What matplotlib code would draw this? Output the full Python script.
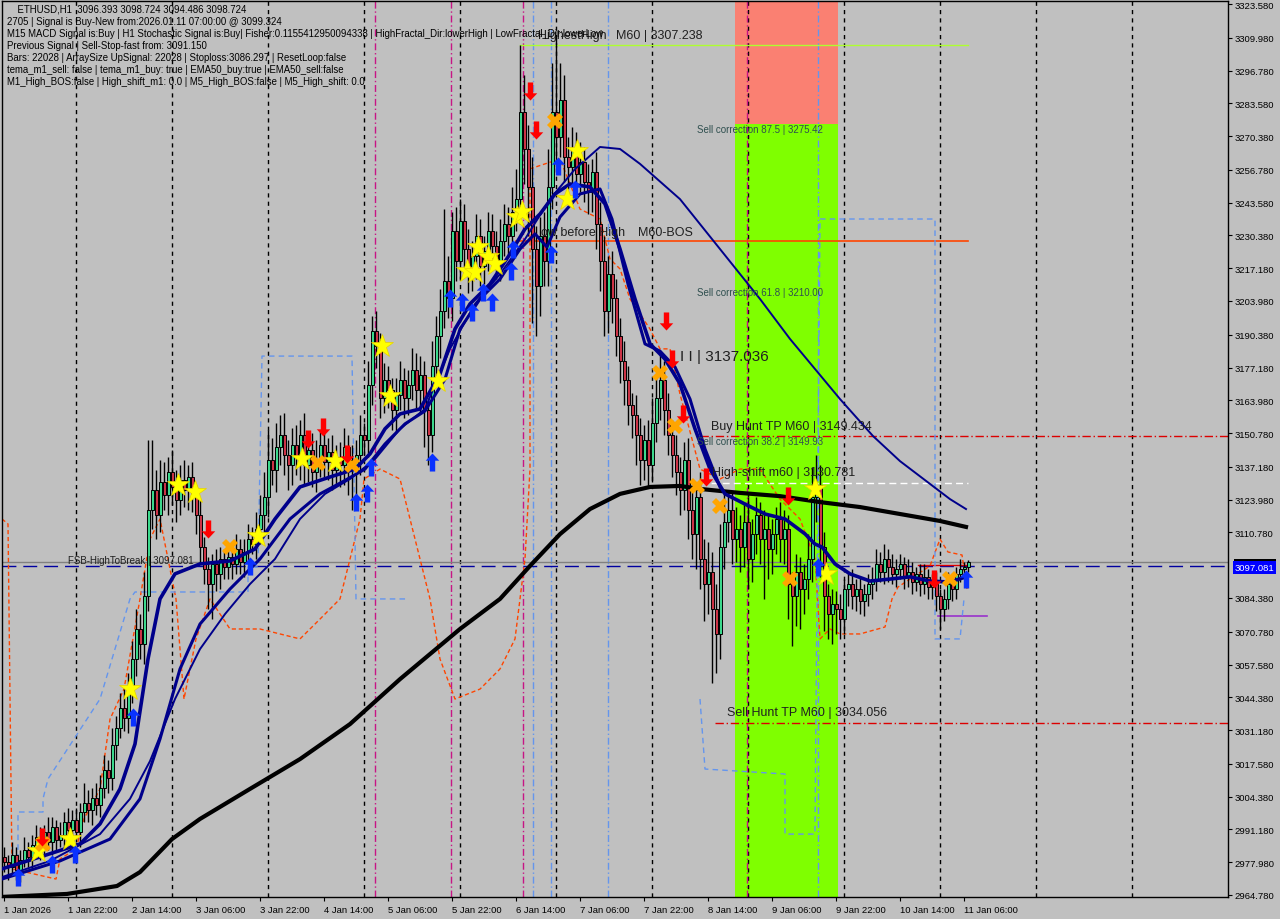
import numpy as np
import matplotlib
matplotlib.use('Agg')
import matplotlib.pyplot as plt
from matplotlib.path import Path
from matplotlib.patches import Rectangle
from matplotlib.transforms import blended_transform_factory

plt.rcParams['font.family'] = ['Liberation Sans', 'DejaVu Sans']

# ---- candles (H1, 1 Jan 06:00 .. 11 Jan 07:00) ----
closes = [
    2978, 2976, 2981, 2975, 2979, 2983, 2980, 2985,
    2988, 2984, 2990, 2986, 2992, 2987, 2989, 2994,
    2991, 2995, 2990, 2998, 3002, 2999, 3004, 3001,
    3008, 3015, 3012, 3025, 3032, 3040, 3036, 3048,
    3060, 3072, 3066, 3085, 3120, 3128, 3118, 3131,
    3126, 3135, 3129, 3124, 3132, 3128, 3133, 3125,
    3118, 3105, 3096, 3090, 3098, 3094, 3100, 3097,
    3101, 3098, 3104, 3099, 3103, 3108, 3106, 3112,
    3118, 3125, 3140, 3136, 3145, 3150, 3142, 3138,
    3146, 3141, 3150, 3138, 3144, 3135, 3140, 3146,
    3139, 3143, 3136, 3141, 3138, 3145, 3140, 3136,
    3142, 3150, 3148, 3170, 3192, 3186, 3165, 3172,
    3168, 3160, 3166, 3172, 3165, 3170, 3176, 3168,
    3174, 3160, 3150, 3178, 3190, 3200, 3212, 3205,
    3232, 3220, 3236, 3225, 3215, 3222, 3230, 3218,
    3224, 3232, 3226, 3220, 3228, 3235, 3230, 3240,
    3245, 3280, 3265, 3250, 3225, 3210, 3230, 3220,
    3250, 3280, 3270, 3285, 3262, 3258, 3265, 3255,
    3260, 3252, 3248, 3256, 3235, 3220, 3200, 3215,
    3205, 3190, 3180, 3172, 3162, 3158, 3150, 3140,
    3148, 3138, 3155, 3165, 3172, 3160, 3150, 3142,
    3135, 3128, 3140, 3120, 3110, 3125, 3100, 3090,
    3095, 3080, 3070, 3105, 3115, 3120, 3108, 3112,
    3105, 3115, 3100, 3110, 3118, 3108, 3112, 3104,
    3110, 3116, 3108, 3112, 3090, 3085, 3095, 3088,
    3092, 3100, 3125, 3130, 3105, 3085, 3078, 3082,
    3080, 3076, 3088, 3090, 3085, 3088, 3083, 3086,
    3090, 3092, 3098, 3095, 3100, 3097, 3094, 3096,
    3098, 3093, 3095, 3091, 3094, 3090, 3093, 3089,
    3090, 3085, 3080, 3084, 3090, 3088, 3094, 3096,
    3097, 3098.724]
opens = [2980] + closes[:-1]
hi_wick = [
    4, 3, 5, 3, 4, 5, 3, 4,  5, 4, 3, 6, 4, 3, 5, 4,
    6, 4, 5, 4, 8, 5, 4, 6,  5, 6, 4, 7, 5, 6, 8, 6,
    7, 8, 6, 10, 28, 20, 8, 9,  8, 6, 9, 7, 6, 8, 5, 6,
    5, 6, 4, 5, 4, 6, 5, 4,  4, 5, 6, 4, 5, 6, 5, 7,
    8, 10, 12, 9, 10, 8, 9, 6,  7, 8, 6, 9, 5, 7, 8, 6,
    5, 6, 7, 5, 6, 8, 5, 6,  6, 8, 5, 10, 6, 8, 5, 7,
    6, 5, 7, 8, 5, 6, 9, 7,  8, 6, 5, 10, 8, 9, 29, 10,
    8, 10, 9, 7, 8, 6, 9, 7,  6, 8, 7, 6, 9, 8, 7, 10,
    12, 27, 15, 10, 12, 9, 8, 10,  15, 20, 30, 15, 10, 8, 9, 7,
    8, 6, 7, 5, 8, 9, 10, 7,  9, 8, 7, 8, 6, 5, 8, 7,
    6, 8, 10, 9, 12, 8, 7, 6,  8, 6, 7, 9, 8, 6, 10, 8,
    12, 8, 10, 9, 12, 8, 7, 9,  6, 8, 10, 6, 7, 5, 8, 6,
    6, 5, 7, 8, 6, 5, 7, 6,  6, 10, 12, 12, 8, 6, 5, 6,
    5, 6, 4, 5, 6, 4, 5, 4,  4, 5, 6, 5, 6, 4, 5, 4,
    4, 3, 5, 4, 3, 4, 5, 3,  4, 5, 3, 4, 5, 4, 3, 4,
    2, 1]
lo_wick = [
    4, 5, 3, 4, 5, 3, 4, 5,  3, 5, 4, 3, 5, 4, 3, 5,
    4, 5, 4, 6, 4, 5, 6, 4,  5, 4, 6, 5, 6, 4, 5, 6,
    6, 7, 6, 8, 6, 8, 10, 7,  6, 8, 7, 9, 6, 7, 8, 6,
    8, 7, 6, 10, 14, 7, 6, 5,  5, 6, 4, 5, 6, 5, 4, 6,
    6, 7, 8, 6, 9, 7, 8, 10,  8, 7, 9, 8, 7, 6, 8, 7,
    6, 7, 8, 6, 9, 8, 14, 16,  12, 8, 6, 7, 8, 9, 8, 6,
    7, 8, 9, 6, 8, 7, 6, 8,  9, 15, 12, 7, 8, 9, 7, 8,
    9, 8, 7, 10, 8, 7, 9, 8,  7, 8, 9, 7, 8, 6, 8, 7,
    8, 10, 14, 20, 30, 20, 12, 10,  10, 9, 12, 8, 10, 9, 8, 7,
    7, 8, 9, 8, 10, 12, 10, 9,  10, 8, 9, 10, 8, 9, 12, 10,
    8, 9, 7, 8, 9, 10, 8, 9,  9, 10, 8, 12, 10, 14, 12, 15,
    12, 30, 16, 10, 9, 8, 10, 9,  10, 8, 12, 9, 8, 10, 24, 12,
    10, 8, 9, 10, 14, 20, 12, 16,  10, 8, 9, 10, 12, 14, 10, 12,
    10, 8, 6, 7, 5, 6, 5, 6,  5, 6, 5, 4, 5, 6, 4, 5,
    4, 5, 4, 5, 4, 5, 4, 5,  5, 6, 8, 5, 4, 5, 4, 3,
    2, 2]

# ---- moving averages (bar index, price) ----
fast_i = [-0.5, 9, 19, 24, 29, 32.75, 36, 39, 42.75, 49, 56.5, 62.75, 67.75, 74, 81.5, 87.75,
          91.5, 95.25, 99, 104, 109, 112.75, 116.5, 121.5, 126.5, 130.25, 134, 137.75, 141.5,
          146.5, 150.25, 154, 157.75, 161.5, 165.25, 169, 172.75, 176.5, 180.25, 185.25, 190.25,
          195.25, 200.25, 202.75, 204.5, 207.75, 211.5, 216.5, 221.5, 226.5, 231.5, 236.5, 240.5]
fast_p = [2975.3, 2980.1, 2985.3, 2993.4, 3007.5, 3025.6, 3059.8, 3084.0, 3094.1, 3098.1, 3099.3,
          3104.1, 3116.2, 3129.1, 3133.1, 3136.3, 3142.4, 3152.5, 3158.5, 3160.5, 3174.6, 3192.7,
          3202.8, 3210.8, 3222.9, 3233.0, 3239.0, 3247.1, 3251.1, 3249.9, 3243.1, 3224.9, 3204.8,
          3186.7, 3180.6, 3170.6, 3152.5, 3136.3, 3126.3, 3122.2, 3118.2, 3116.2, 3110.2, 3106.1,
          3104.9, 3098.1, 3094.1, 3091.2, 3092.0, 3092.9, 3091.2, 3090.8, 3092.9]
mid_i = [-0.5, 14, 26.5, 34, 39, 44, 49, 56.5, 64, 71.5, 79, 85, 90.25, 95.25, 100.25, 105.25,
         110.25, 114, 119, 124, 129, 132.75, 135.75, 139, 144, 149, 152, 156, 160.25, 164,
         167.75, 171.5, 175.25, 179]
mid_p = [2971.2, 2978.5, 2987.3, 3003.5, 3027.6, 3055.8, 3073.9, 3088.0, 3100.1, 3116.2, 3126.3,
         3131.5, 3136.3, 3146.4, 3154.5, 3159.7, 3172.5, 3192.7, 3204.8, 3212.8, 3224.9, 3231.0,
         3225.7, 3237.8, 3247.1, 3249.1, 3237.0, 3210.8, 3186.7, 3183.8, 3177.4, 3164.5, 3144.4,
         3129.1]
slow_i = [-0.5, 11.5, 24, 31.5, 36.5, 42.75, 49, 55.25, 61.5, 67.75, 74, 80.25, 86.5, 92.75, 99,
          105.25, 111.5, 117.75, 124, 130.25, 136.5, 142.75, 149, 154, 159, 169, 179, 189, 196.5,
          209, 217.25, 224, 236.5, 240.5]
slow_p = [2972.0, 2978.5, 2989.3, 3003.5, 3018.7, 3043.7, 3063.8, 3077.9, 3090.0, 3100.1, 3116.2,
          3126.3, 3132.3, 3140.3, 3152.5, 3160.5, 3184.7, 3202.8, 3214.8, 3228.9, 3245.0, 3257.1,
          3266.0, 3265.2, 3259.2, 3245.0, 3224.9, 3204.8, 3188.7, 3164.5, 3149.6, 3139.5, 3124.2,
          3120.2]
ema200_i = [-0.5, 15.75, 28.25, 34, 42, 49, 61.5, 74, 86.5, 99, 106.5, 114, 124, 131.5, 139,
            146.5, 154, 161.5, 169, 174, 184, 194, 204, 214, 224, 234, 240.5]
ema200_p = [2964.0, 2965.2, 2968.4, 2974.0, 2987.3, 2995.4, 3007.5, 3019.5, 3033.6, 3051.7,
            3061.8, 3071.9, 3084.0, 3097.3, 3110.1, 3120.2, 3126.3, 3129.1, 3129.5, 3128.3,
            3126.7, 3125.4, 3123.0, 3121.0, 3118.2, 3115.4, 3113.0]

# ---- channel step lines ----
orange_i = [-0.5, 1, 2, 13, 14, 18, 20, 24, 26.5, 30, 34, 36.5, 39, 43, 45, 48, 51.5, 56.5, 64,
            74, 79, 84, 86.5, 89, 90, 94, 99, 101.5, 104, 106.5, 109, 112.75, 119, 124, 127.75,
            130.25, 131.5, 131.5, 139, 144, 149, 151.5, 154, 156.5, 161.5, 164, 166.5, 169, 174,
            179, 184, 189, 194, 199, 202.75, 204, 206.5, 209, 214, 220.25, 222, 223.5, 231.5,
            234, 236, 239.5, 240.75]
orange_p = [3116.2, 3114.2, 2975.3, 2971.2, 2979.3, 2983.3, 2995.4, 3007.5, 3035.6, 3047.7, 3084.0,
            3108.1, 3116.2, 3084.0, 3043.7, 3067.9, 3084.0, 3071.9, 3071.9, 3067.9, 3075.9, 3084.0,
            3100.1, 3116.2, 3132.3, 3136.3, 3132.3, 3116.2, 3100.1, 3084.0, 3059.8, 3043.7, 3047.7,
            3055.8, 3067.9, 3100.1, 3136.3, 3257.2, 3261.2, 3241.0, 3237.0, 3220.9, 3216.9, 3204.8,
            3192.7, 3184.7, 3184.7, 3166.5, 3136.3, 3132.3, 3136.3, 3136.3, 3124.2, 3116.2, 3100.1,
            3067.9, 3071.9, 3069.9, 3069.9, 3072.7, 3084.0, 3088.8, 3097.3, 3108.1, 3102.9, 3101.7,
            3088.0]
blue_i = [3.5, 3.5, 9.75, 9.75, 11, 24, 31.5, 32.75, 61, 61, 63.5, 64.5, 87, 88, 101,
          np.nan, 174, 175.25, 195.25, 195.25, 202.75, 204, 232.75, 232.75, 239, 240]
blue_p = [2971.2, 2998.2, 2998.2, 3003.5, 3011.5, 3043.7, 3084.0, 3086.8, 3086.8, 3096.9, 3096.9,
          3181.8, 3181.8, 3084.0, 3084.0, np.nan, 3043.7, 3015.5, 3013.5, 2989.3, 2989.3, 3237.0,
          3237.0, 3067.9, 3067.9, 3084.0]

# ---- signal markers (bar index, price) ----
star_i = [8.5, 16.5, 31.5, 43.5, 47.75, 63.5, 74.5, 82.75, 94.5, 96.5, 108.5, 115.75, 117.75,
          118.5, 121, 122.75, 128.25, 129.5, 140.75, 143.25, 202.75, 205.5]
star_p = [2982.5, 2987.3, 3047.7, 3129.9, 3127.1, 3109.3, 3140.3, 3139.5, 3185.9, 3165.7, 3171.8,
          3216.1, 3215.7, 3225.7, 3221.7, 3218.9, 3237.8, 3239.8, 3245.0, 3264.4, 3128.3, 3094.0]
cross_i = [9.75, 56.5, 78.5, 87, 137.75, 164, 167.75, 173.25, 179, 196.5, 236.5]
cross_p = [2985.3, 3104.9, 3138.7, 3137.9, 3276.5, 3175.0, 3153.6, 3129.5, 3121.4, 3092.0, 3092.0]
down_i = [9.5, 51, 76, 79.75, 85.75, 131.5, 133, 165.5, 167, 169.75, 175.5, 196, 232.5]
down_p = [2988.1, 3112.2, 3148.4, 3153.2, 3142.4, 3288.5, 3272.8, 3195.9, 3180.6, 3158.5,
          3133.1, 3125.4, 3092.0]
up_i = [3.5, 12, 17.75, 32.25, 61.5, 88, 90.75, 91.75, 107, 111.5, 114.5, 117, 119.75, 122,
        126.75, 127.25, 136.75, 138.5, 142.75, 203.5, 240.5]
up_p = [2972.0, 2977.3, 2981.3, 3036.5, 3097.3, 3123.0, 3126.7, 3137.1, 3139.1, 3205.2, 3203.6,
        3199.6, 3207.6, 3203.6, 3216.1, 3224.9, 3222.9, 3258.3, 3249.1, 3096.9, 3092.0]

# ---- levels ----
highest_high = 3307.238
bos_level = 3228.1
sell_corr_875 = 3275.42
buy_hunt_tp = 3149.434
high_shift = 3130.781
sell_hunt_tp = 3034.056
fsb_level = 3097.081
bid = 3098.724
zone_start, zone_end = 182.75, 208.5

y_ticks = [3323.580, 3309.980, 3296.780, 3283.580, 3270.380, 3256.780, 3243.580, 3230.380,
           3217.180, 3203.980, 3190.380, 3177.180, 3163.980, 3150.780, 3137.180, 3123.980,
           3110.780, 3084.380, 3070.780, 3057.580, 3044.380, 3031.180, 3017.580, 3004.380,
           2991.180, 2977.980, 2964.780]
x_labels = ['1 Jan 2026', '1 Jan 22:00', '2 Jan 14:00', '3 Jan 06:00', '3 Jan 22:00',
            '4 Jan 14:00', '5 Jan 06:00', '5 Jan 22:00', '6 Jan 14:00', '7 Jan 06:00',
            '7 Jan 22:00', '8 Jan 14:00', '9 Jan 06:00', '9 Jan 22:00', '10 Jan 14:00',
            '11 Jan 06:00']

info_lines = [
    '    ETHUSD,H1  3096.393 3098.724 3094.486 3098.724',
    '2705 | Signal is Buy-New from:2026.01.11 07:00:00 @ 3099.324',
    'M15 MACD Signal is:Buy | H1 Stochastic Signal is:Buy| Fisher:0.1155412950094338 | HighFractal_Dir:lowerHigh | LowFractal_Dir:lowerLow',
    'Previous Signal | Sell-Stop-fast from: 3091.150',
    'Bars: 22028 | ArraySize UpSignal: 22028 | Stoploss:3086.297 | ResetLoop:false',
    'tema_m1_sell: false | tema_m1_buy: true | EMA50_buy:true | EMA50_sell:false',
    'M1_High_BOS:false | High_shift_m1: 0.0 | M5_High_BOS:false | M5_High_shift: 0.0',
]

BG = '#C0C0C0'
fig = plt.figure(figsize=(12.8, 9.2), dpi=100, facecolor=BG)
ax = fig.add_axes([2 / 1280, 22 / 920, 1226 / 1280, 896 / 920])
ax.set_facecolor(BG)
ax.set_xlim(-0.5, 306)
ax.set_ylim(2963.97, 3324.79)

# zones
ax.axvspan(zone_start, zone_end, ymin=0, ymax=1, color='#7FFF00', lw=0, zorder=1)
ax.fill_between([zone_start, zone_end], sell_corr_875, 3330, color='#FA8072', lw=0, zorder=1)

# day separators + other verticals
for d in np.arange(18, 306, 24):
    ax.axvline(d, color='black', lw=1, ls=(0, (3, 3)), zorder=2)
for v in [92.75, 111.75, 129.75, 185.75]:
    ax.axvline(v, color='#C71585', lw=1, ls=(0, (5, 2, 1, 2)), zorder=2)
for v in [132.25, 136.75, 151, 203.5]:
    ax.axvline(v, color='#6495ED', lw=1, ls=(0, (5, 2, 1, 2)), zorder=2)

# step lines
ax.plot(orange_i, orange_p, color='#FF4500', lw=1, ls=(0, (3, 2)), zorder=2.5)
ax.plot(blue_i, blue_p, color='#6495ED', lw=1, ls=(0, (4, 3)), zorder=2.5)

# levels
ax.plot([129, 241], [highest_high] * 2, color='#ADFF2F', lw=1, zorder=2)
ax.plot([128, 241], [bos_level] * 2, color='#FF4500', lw=1.2, zorder=2)
ax.plot([174, 306], [buy_hunt_tp] * 2, color='#DC0000', lw=1, ls=(0, (6, 2, 1, 2)), zorder=2)
ax.plot([174, 241], [high_shift] * 2, color='white', lw=1, ls=(0, (5, 3)), zorder=2)
ax.plot([177.75, 306], [sell_hunt_tp] * 2, color='#DC0000', lw=1, ls=(0, (6, 2, 1, 2)), zorder=2)
ax.axhline(bid, color='#808080', lw=1, zorder=2)
ax.axhline(fsb_level, color='#0000A0', lw=1, ls=(0, (10, 5)), zorder=2)
ax.plot([233.5, 245.75], [3077.1] * 2, color='#9932CC', lw=1.2, zorder=2)
ax.plot([228.5, 241], [3097.5] * 2, color='#DC0000', lw=1, zorder=2)

# candles
x = np.arange(len(closes))
o = np.array(opens, float)
c = np.array(closes, float)
hi = np.maximum(o, c) + np.array(hi_wick)
lo = np.minimum(o, c) - np.array(lo_wick)
ax.vlines(x, lo, hi, color='black', lw=1, zorder=3)
body = np.maximum(np.abs(c - o), 0.5)
cols = np.where(c >= o, '#3CD88C', '#CC3346')
ax.bar(x, body, bottom=np.minimum(o, c), width=0.75, color=cols, edgecolor='black', lw=0.7, zorder=4)

# moving averages
ax.plot(ema200_i, ema200_p, color='black', lw=3, zorder=5)
ax.plot(slow_i, slow_p, color='#00008B', lw=1.4, zorder=5)
ax.plot(mid_i, mid_p, color='#00008B', lw=2.2, zorder=5)
ax.plot(fast_i, fast_p, color='#00008B', lw=2.6, zorder=5)

# markers
up_arrow = Path([(0, 1), (0.75, 0.2), (0.3, 0.2), (0.3, -1), (-0.3, -1), (-0.3, 0.2),
                 (-0.75, 0.2), (0, 1)], closed=True)
down_arrow = Path([(xx, -yy) for xx, yy in up_arrow.vertices], closed=True)
ax.plot(star_i, star_p, ls='none', marker='*', ms=17, color='#FFFF00', mec='#E6D200', mew=0.5, zorder=6)
ax.plot(cross_i, cross_p, ls='none', marker='X', ms=11, color='#FFA500', mew=0, zorder=6)
ax.plot(down_i, down_p, ls='none', marker=down_arrow, ms=13, color='#FF0000', mew=0, zorder=6)
ax.plot(up_i, up_p, ls='none', marker=up_arrow, ms=13, color='#0A32FF', mew=0, zorder=6)

# labels on chart
txt = dict(zorder=7, va='center', ha='left')
ax.text(133.5, 3311.1, 'HighestHigh', fontsize=9, color='#202020', **txt)
ax.text(153, 3311.1, 'M60 | 3307.238', fontsize=9, color='#202020', **txt)
ax.text(173.25, 3273.2, 'Sell correction 87.5 | 3275.42', fontsize=7, color='#2F4F4F', **txt)
ax.text(134.25, 3231.8, 'ow before High', fontsize=9, color='#202020', **txt)
ax.text(158.5, 3231.8, 'M60-BOS', fontsize=9, color='#202020', **txt)
ax.text(173.25, 3207.6, 'Sell correction 61.8 | 3210.00', fontsize=7, color='#2F4F4F', **txt)
ax.text(169, 3181.8, 'I I | 3137.036', fontsize=11, color='#202020', **txt)
ax.text(176.75, 3153.6, 'Buy Hunt TP M60 | 3149.434', fontsize=9, color='#202020', **txt)
ax.text(173.25, 3147.6, 'Sell correction 38.2 | 3149.93', fontsize=7, color='#2F4F4F', **txt)
ax.text(177, 3135.1, 'High-shift m60 | 3130.781', fontsize=9, color='#202020', **txt)
ax.text(180.75, 3038.5, 'Sell Hunt TP M60 | 3034.056', fontsize=9, color='#202020', **txt)
ax.text(16, 3099.7, 'FSB-HighToBreak | 3097.081', fontsize=7, color='#202020', **txt)

for k, line in enumerate(info_lines):
    fig.text(7 / 1280, 1 - (10 + 12 * k) / 920, line, fontsize=6.9, color='black', va='center', ha='left')

# axes
ax.yaxis.tick_right()
ax.set_yticks(y_ticks)
ax.set_yticklabels([f'{t:.3f}' for t in y_ticks], fontsize=6.8)
ax.set_xticks(np.arange(0, 242, 16))
ax.set_xticklabels(x_labels, fontsize=6.8, ha='left')
ax.tick_params(axis='both', length=3, width=0.8, color='black', pad=2)
ax.tick_params(axis='x', pad=3)
for s in ax.spines.values():
    s.set_color('black')
    s.set_linewidth(1)

# bid price box peeking out above the FSB price box on the scale
tr = blended_transform_factory(ax.transAxes, ax.transData)
ax.add_patch(Rectangle((1.0045, 3095.0), 0.0345, 5.2, transform=tr, facecolor='black',
                       edgecolor='none', clip_on=False, zorder=8))
ax.annotate(f'{fsb_level:.3f}', xy=(1, fsb_level), xycoords=('axes fraction', 'data'), xytext=(5, -0.5),
            textcoords='offset points', fontsize=6.8, color='white', va='center', ha='left',
            bbox=dict(boxstyle='square,pad=0.2', fc='#0000FF', ec='none'), zorder=9,
            annotation_clip=False)

fig.savefig('out.png', dpi=100, facecolor=BG)
